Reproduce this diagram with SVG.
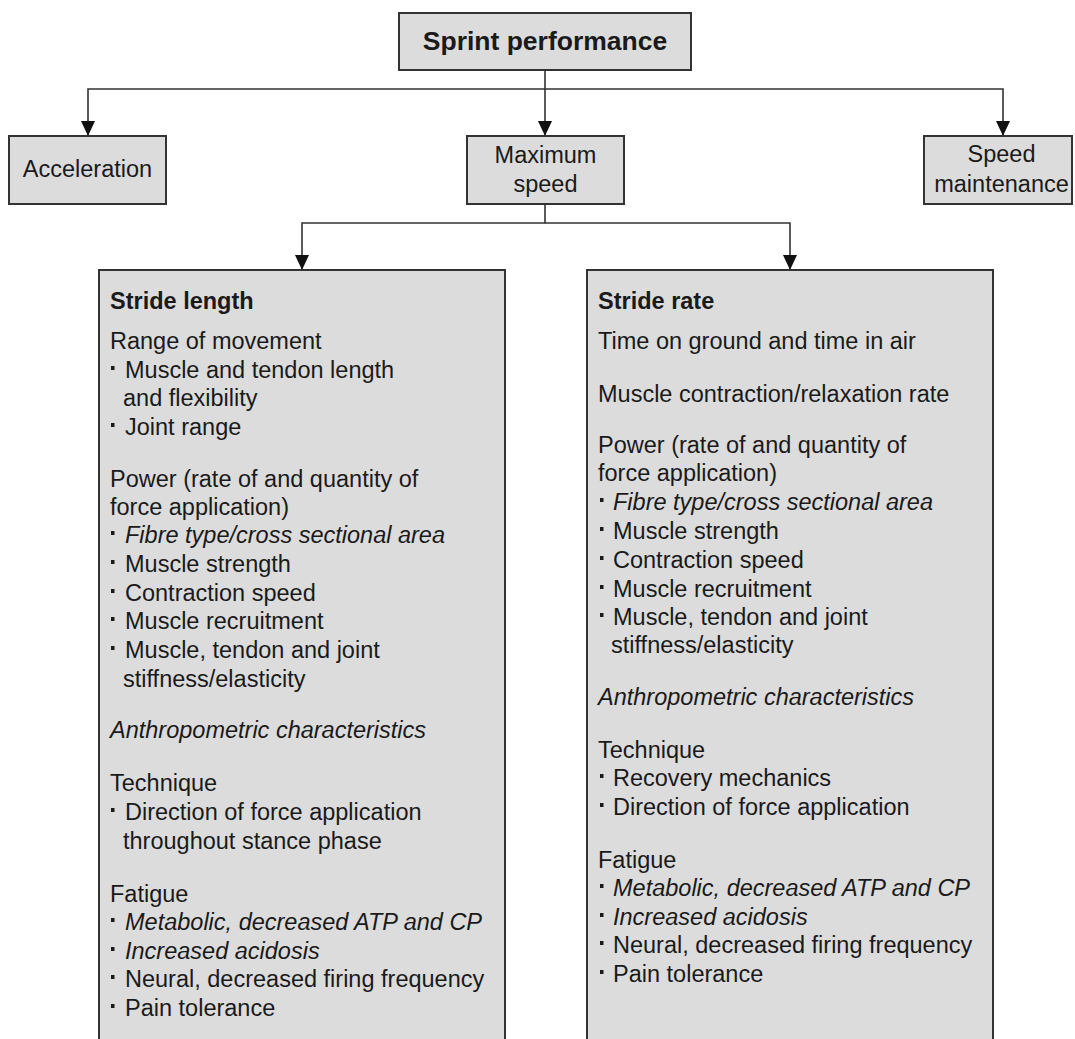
<svg xmlns="http://www.w3.org/2000/svg" width="1075" height="1039" viewBox="0 0 1075 1039">
<style>
.box{fill:#dcdcdc;stroke:#333;stroke-width:2}
.t{font-family:"Liberation Sans",Arial,sans-serif;font-size:23.5px;fill:#1a1a1a}
.c{text-anchor:middle}
.b{font-weight:bold}
.i{font-style:italic}
.ln{fill:none;stroke:#333;stroke-width:1.6}
.bl{fill:#1a1a1a}
</style>
<defs>
<marker id="ah" viewBox="0 0 15 14" refX="15" refY="7" markerWidth="15" markerHeight="14" markerUnits="userSpaceOnUse" orient="auto">
<path d="M0,0 L15,7 L0,14 Z" fill="#111"/>
</marker>
<rect id="bu" width="3.5" height="4" class="bl"/>
</defs>
<rect width="1075" height="1039" fill="#fff"/>
<g id="connectors">
<path class="ln" d="M545,70 V136" marker-end="url(#ah)"/>
<path class="ln" d="M545,89 H88 V136" marker-end="url(#ah)"/>
<path class="ln" d="M545,89 H1003 V136" marker-end="url(#ah)"/>
<path class="ln" d="M545,204 V223 H302 V270" marker-end="url(#ah)"/>
<path class="ln" d="M545,223 H790 V270" marker-end="url(#ah)"/>
</g>
<g id="sprint-performance">
<rect class="box" x="399" y="13" width="292" height="57"/>
<text class="t c b" x="545" y="50" style="font-size:26.5px">Sprint performance</text>
</g>
<g id="acceleration">
<rect class="box" x="9" y="136" width="157" height="68"/>
<text class="t c" x="87.5" y="177">Acceleration</text>
</g>
<g id="maximum-speed">
<rect class="box" x="467" y="136" width="157" height="68"/>
<text class="t c" x="545.5" y="163">Maximum</text>
<text class="t c" x="545.5" y="192">speed</text>
</g>
<g id="speed-maintenance">
<rect class="box" x="924" y="136" width="148" height="68"/>
<text class="t c" x="1001.5" y="162">Speed</text>
<text class="t c" x="1001.5" y="192">maintenance</text>
</g>
<g id="stride-length">
<rect class="box" x="99" y="270" width="406" height="790"/>
<text class="t b" x="110" y="309">Stride length</text>
<text class="t" x="110" y="349">Range of movement</text>
<use href="#bu" x="111" y="366"/><text class="t" x="125" y="378">Muscle and tendon length</text>
<text class="t" x="123" y="406">and flexibility</text>
<use href="#bu" x="111" y="423"/><text class="t" x="125" y="435">Joint range</text>
<text class="t" x="110" y="487">Power (rate of and quantity of</text>
<text class="t" x="110" y="515">force application)</text>
<use href="#bu" x="111" y="531"/><text class="t i" x="125" y="543">Fibre type/cross sectional area</text>
<use href="#bu" x="111" y="560"/><text class="t" x="125" y="572">Muscle strength</text>
<use href="#bu" x="111" y="589"/><text class="t" x="125" y="601">Contraction speed</text>
<use href="#bu" x="111" y="617"/><text class="t" x="125" y="629">Muscle recruitment</text>
<use href="#bu" x="111" y="646"/><text class="t" x="125" y="658">Muscle, tendon and joint</text>
<text class="t" x="123" y="687">stiffness/elasticity</text>
<text class="t i" x="110" y="738">Anthropometric characteristics</text>
<text class="t" x="110" y="791">Technique</text>
<use href="#bu" x="111" y="808"/><text class="t" x="125" y="820">Direction of force application</text>
<text class="t" x="123" y="849">throughout stance phase</text>
<text class="t" x="110" y="902">Fatigue</text>
<use href="#bu" x="111" y="918"/><text class="t i" x="125" y="930">Metabolic, decreased ATP and CP</text>
<use href="#bu" x="111" y="947"/><text class="t i" x="125" y="959">Increased acidosis</text>
<use href="#bu" x="111" y="975"/><text class="t" x="125" y="987">Neural, decreased firing frequency</text>
<use href="#bu" x="111" y="1004"/><text class="t" x="125" y="1016">Pain tolerance</text>
</g>
<g id="stride-rate">
<rect class="box" x="587" y="270" width="406" height="790"/>
<text class="t b" x="598" y="309">Stride rate</text>
<text class="t" x="598" y="349">Time on ground and time in air</text>
<text class="t" x="598" y="402">Muscle contraction/relaxation rate</text>
<text class="t" x="598" y="453">Power (rate of and quantity of</text>
<text class="t" x="598" y="481">force application)</text>
<use href="#bu" x="600" y="498"/><text class="t i" x="613" y="510">Fibre type/cross sectional area</text>
<use href="#bu" x="600" y="527"/><text class="t" x="613" y="539">Muscle strength</text>
<use href="#bu" x="600" y="556"/><text class="t" x="613" y="568">Contraction speed</text>
<use href="#bu" x="600" y="585"/><text class="t" x="613" y="597">Muscle recruitment</text>
<use href="#bu" x="600" y="613"/><text class="t" x="613" y="625">Muscle, tendon and joint</text>
<text class="t" x="611" y="653">stiffness/elasticity</text>
<text class="t i" x="598" y="705">Anthropometric characteristics</text>
<text class="t" x="598" y="758">Technique</text>
<use href="#bu" x="600" y="774"/><text class="t" x="613" y="786">Recovery mechanics</text>
<use href="#bu" x="600" y="803"/><text class="t" x="613" y="815">Direction of force application</text>
<text class="t" x="598" y="868">Fatigue</text>
<use href="#bu" x="600" y="884"/><text class="t i" x="613" y="896">Metabolic, decreased ATP and CP</text>
<use href="#bu" x="600" y="913"/><text class="t i" x="613" y="925">Increased acidosis</text>
<use href="#bu" x="600" y="941"/><text class="t" x="613" y="953">Neural, decreased firing frequency</text>
<use href="#bu" x="600" y="970"/><text class="t" x="613" y="982">Pain tolerance</text>
</g>
</svg>
